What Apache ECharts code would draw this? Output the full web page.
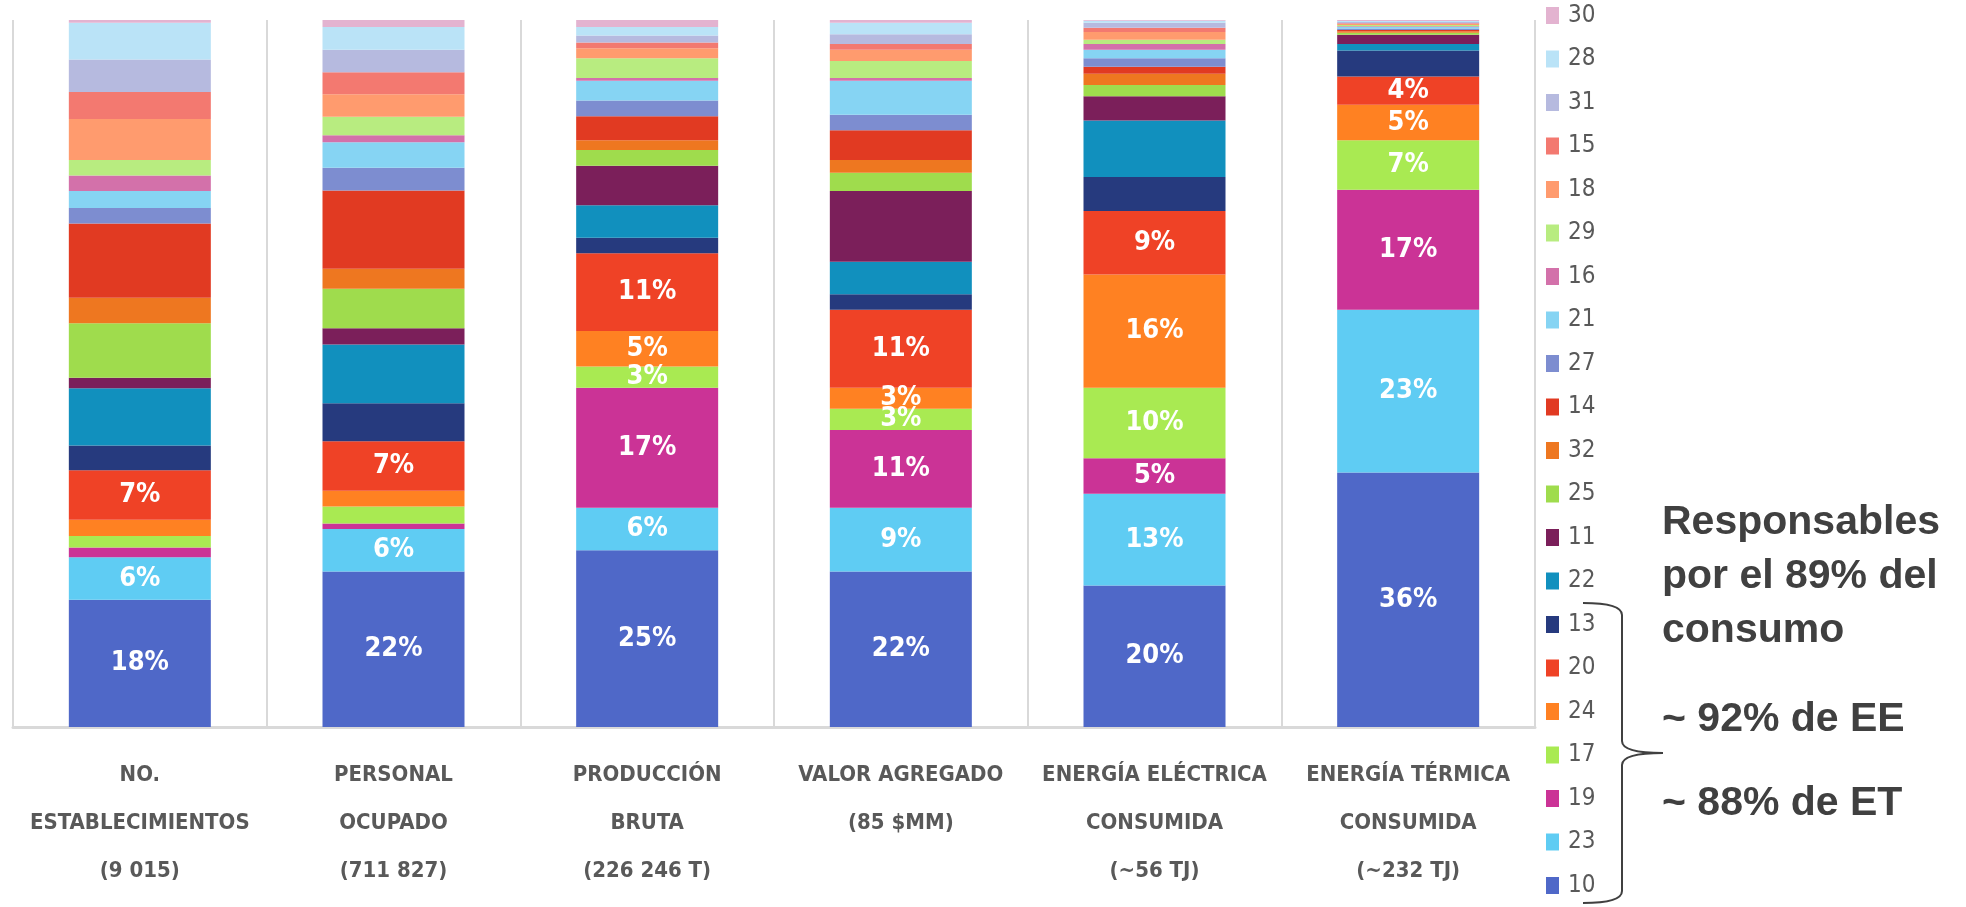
<!DOCTYPE html>
<html>
<head>
<meta charset="utf-8">
<script src="https://cdn.jsdelivr.net/npm/echarts@6/dist/echarts.min.js"></script>
<style>
  html, body { margin: 0; padding: 0; background: #ffffff; }
  #chart { width: 1966px; height: 907px; }
</style>
</head>
<body>
<div id="chart"></div>
<script>
// Categories (x axis), three-line labels
const categories = [
  'NO.\nESTABLECIMIENTOS\n(9 015)',
  'PERSONAL\nOCUPADO\n(711 827)',
  'PRODUCCIÓN\nBRUTA\n(226 246 T)',
  'VALOR AGREGADO\n(85 $MM)',
  'ENERGÍA ELÉCTRICA\nCONSUMIDA\n(~56 TJ)',
  'ENERGÍA TÉRMICA\nCONSUMIDA\n(~232 TJ)'
];

// Share (%) of each industry code per indicator, stacked bottom to top
const s10 = [18, 22, 25, 22, 20, 36];
const s23 = [6, 6, 6, 9, 13, 23];
const s19 = [1.4, 0.8, 17, 11, 5, 17];
const s17 = [1.6, 2.4, 3, 3, 10, 7];
const s24 = [2.3, 2.2, 5, 3, 16, 5];
const s20 = [7, 7, 11, 11, 9, 4];
const s13 = [3.5, 5.4, 2.2, 2.2, 4.8, 3.7];
const s22 = [8.1, 8.3, 4.6, 4.6, 8.0, 0.9];
const s11 = [1.5, 2.3, 5.6, 10.0, 3.4, 1.3];
const s25 = [7.7, 5.6, 2.2, 2.6, 1.6, 0.3];
const s32 = [3.6, 2.8, 1.4, 1.8, 1.6, 0.2];
const s14 = [10.5, 11.1, 3.4, 4.2, 1.0, 0.2];
const s27 = [2.2, 3.2, 2.2, 2.2, 1.2, 0.2];
const s21 = [2.4, 3.6, 2.8, 4.8, 1.2, 0.2];
const s16 = [2.2, 1.0, 0.4, 0.4, 0.8, 0.1];
const s29 = [2.2, 2.6, 2.8, 2.4, 0.6, 0.2];
const s18 = [5.8, 3.2, 1.4, 1.6, 1.1, 0.15];
const s15 = [3.8, 3.1, 0.8, 0.8, 0.6, 0.1];
const s31 = [4.6, 3.2, 1.0, 1.4, 0.7, 0.15];
const s28 = [5.2, 3.2, 1.2, 1.6, 0.3, 0.15];
const s30 = [0.4, 1.0, 1.0, 0.4, 0.1, 0.15];

// Series codes from bottom of the stack to the top, with their colours
const codes = ['10', '23', '19', '17', '24', '20', '13', '22', '11', '25', '32',
               '14', '27', '21', '16', '29', '18', '15', '31', '28', '30'];
const values = [s10, s23, s19, s17, s24, s20, s13, s22, s11, s25, s32,
                s14, s27, s21, s16, s29, s18, s15, s31, s28, s30];
const colors = ['#4F68C8', '#5FCCF3', '#CB3396', '#A9EA52', '#FF8122', '#EF4226',
                '#263A7E', '#1190BE', '#7B1F5A', '#9FDC4D', '#EE7720', '#E13A22',
                '#7D8DD0', '#86D4F3', '#D371AA', '#B8EC80', '#FF9B6E', '#F37970',
                '#B6BADF', '#BAE3F7', '#E3B3D0'];

// Codes whose segments carry a percentage label (when large enough)
const labeledCodes = ['10', '23', '19', '17', '24', '20'];

const condensed = '"DejaVu Sans Condensed", "DejaVu Sans", sans-serif';
const boldSans = '"Liberation Sans", Arial, sans-serif';

const series = codes.map((code, i) => ({
  name: code,
  type: 'bar',
  stack: 'total',
  barWidth: 142,
  data: values[i],
  itemStyle: { color: colors[i] },
  label: {
    show: labeledCodes.includes(code),
    position: 'inside',
    color: '#ffffff',
    fontFamily: condensed,
    fontWeight: 'bold',
    fontSize: 27,
    formatter: p => (p.value >= 3 ? p.value + '%' : '')
  },
  emphasis: { disabled: true }
}));

// Curly brace grouping the main codes, next to the legend
const braceStyle = { stroke: '#404040', lineWidth: 2, fill: null };
const brace = [
  { type: 'bezierCurve', shape: { x1: 1583, y1: 603, cpx1: 1622, cpy1: 603, x2: 1622, y2: 615 } },
  { type: 'line', shape: { x1: 1622, y1: 615, x2: 1622, y2: 741 } },
  { type: 'bezierCurve', shape: { x1: 1622, y1: 741, cpx1: 1622, cpy1: 753, x2: 1663, y2: 753 } },
  { type: 'bezierCurve', shape: { x1: 1663, y1: 753, cpx1: 1622, cpy1: 753, x2: 1622, y2: 765 } },
  { type: 'line', shape: { x1: 1622, y1: 765, x2: 1622, y2: 891 } },
  { type: 'bezierCurve', shape: { x1: 1622, y1: 891, cpx1: 1622, cpy1: 903, x2: 1583, y2: 903 } }
].map(el => Object.assign(el, { style: braceStyle, silent: true }));

const noteFont = 'bold 41px ' + boldSans;

const chart = echarts.init(document.getElementById('chart'), null, { renderer: 'canvas' });

chart.setOption({
  backgroundColor: '#ffffff',
  animation: false,
  grid: { left: 13, right: 431, top: 20, bottom: 180, containLabel: false },
  xAxis: {
    type: 'category',
    data: categories,
    axisLine: { show: true, lineStyle: { color: '#D9D9D9', width: 3 } },
    axisTick: { show: false },
    splitLine: { show: true, lineStyle: { color: '#D9D9D9', width: 2 } },
    axisLabel: {
      interval: 0,
      margin: 24,
      color: '#595959',
      fontFamily: condensed,
      fontWeight: 'bold',
      fontSize: 22,
      lineHeight: 48
    }
  },
  yAxis: {
    type: 'value',
    min: 0,
    max: 100,
    show: false,
    splitLine: { show: false }
  },
  legend: {
    orient: 'vertical',
    left: 1546,
    top: 3.5,
    padding: 0,
    itemWidth: 13,
    itemHeight: 17,
    itemGap: 19.5,
    icon: 'rect',
    selectedMode: false,
    data: codes.slice().reverse(),
    textStyle: {
      color: '#595959',
      fontFamily: condensed,
      fontSize: 24,
      lineHeight: 24,
      padding: [0, 0, 0, 4]
    }
  },
  series: series,
  graphic: brace.concat([
    {
      type: 'text',
      left: 1662,
      top: 496,
      style: {
        text: 'Responsables\npor el 89% del\nconsumo',
        font: noteFont,
        lineHeight: 54,
        fill: '#404040'
      }
    },
    {
      type: 'text',
      left: 1662,
      top: 693,
      style: { text: '~ 92% de EE', font: noteFont, lineHeight: 54, fill: '#404040' }
    },
    {
      type: 'text',
      left: 1662,
      top: 777,
      style: { text: '~ 88% de ET', font: noteFont, lineHeight: 54, fill: '#404040' }
    }
  ])
});
</script>
</body>
</html>
